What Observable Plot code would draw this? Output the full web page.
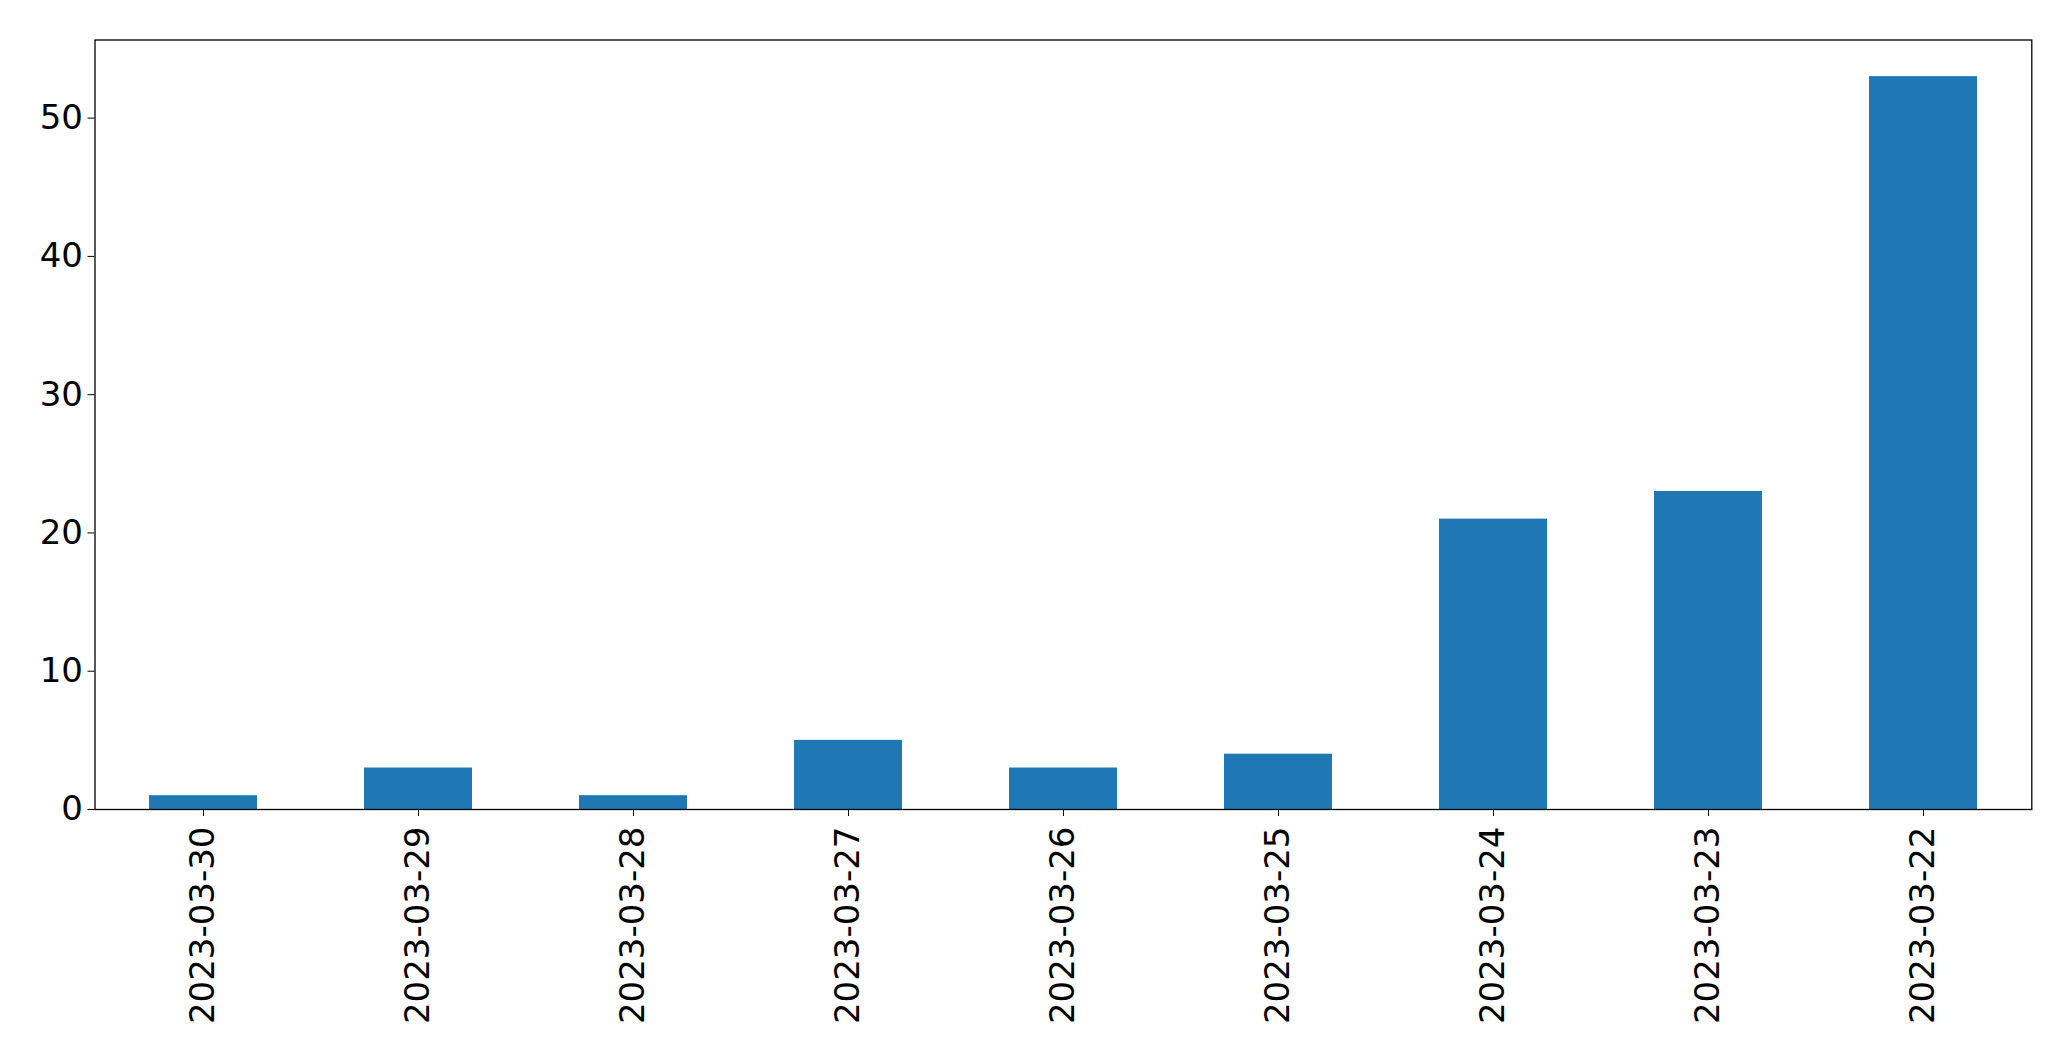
<!DOCTYPE html>
<html>
<head>
<meta charset="utf-8">
<script src="https://cdn.jsdelivr.net/npm/d3@7"></script>
<script src="https://cdn.jsdelivr.net/npm/@observablehq/plot@0.6"></script>
<style>
  html, body { margin: 0; padding: 0; background: #fff; }
</style>
</head>
<body>
<div id="chart"></div>
<script>
const dates = ["2023-03-30", "2023-03-29", "2023-03-28", "2023-03-27", "2023-03-26", "2023-03-25", "2023-03-24", "2023-03-23", "2023-03-22"];
const counts = [1, 3, 1, 5, 3, 4, 21, 23, 53];
const yTicks = [0, 10, 20, 30, 40, 50];

const data = dates.map((d, i) => ({date: d, count: counts[i]}));

const chart = Plot.plot({
  width: 2071,
  height: 1061,
  marginLeft: 94.5,
  marginTop: 39.5,
  marginRight: 39.7,
  marginBottom: 252,
  style: {fontFamily: "DejaVu Sans", fontSize: "34px", color: "#000", background: "#fff"},
  x: {type: "band", domain: dates, paddingInner: 0.5, paddingOuter: 0.25, label: null},
  y: {domain: [0, 55.65], label: null},
  marks: [
    Plot.barY(data, {x: "date", y: "count", fill: "#1f77b4"}),
    Plot.axisY({ticks: yTicks, tickSize: 7, tickPadding: 5, fontSize: 34, label: null, stroke: "#000"}),
    Plot.axisX({tickSize: 7, tickPadding: 10, tickRotate: -90, fontSize: 34, label: null, stroke: "#000"}),
    Plot.frame({stroke: "#000", strokeWidth: 1.3})
  ]
});
document.getElementById("chart").appendChild(chart);
</script>
</body>
</html>
